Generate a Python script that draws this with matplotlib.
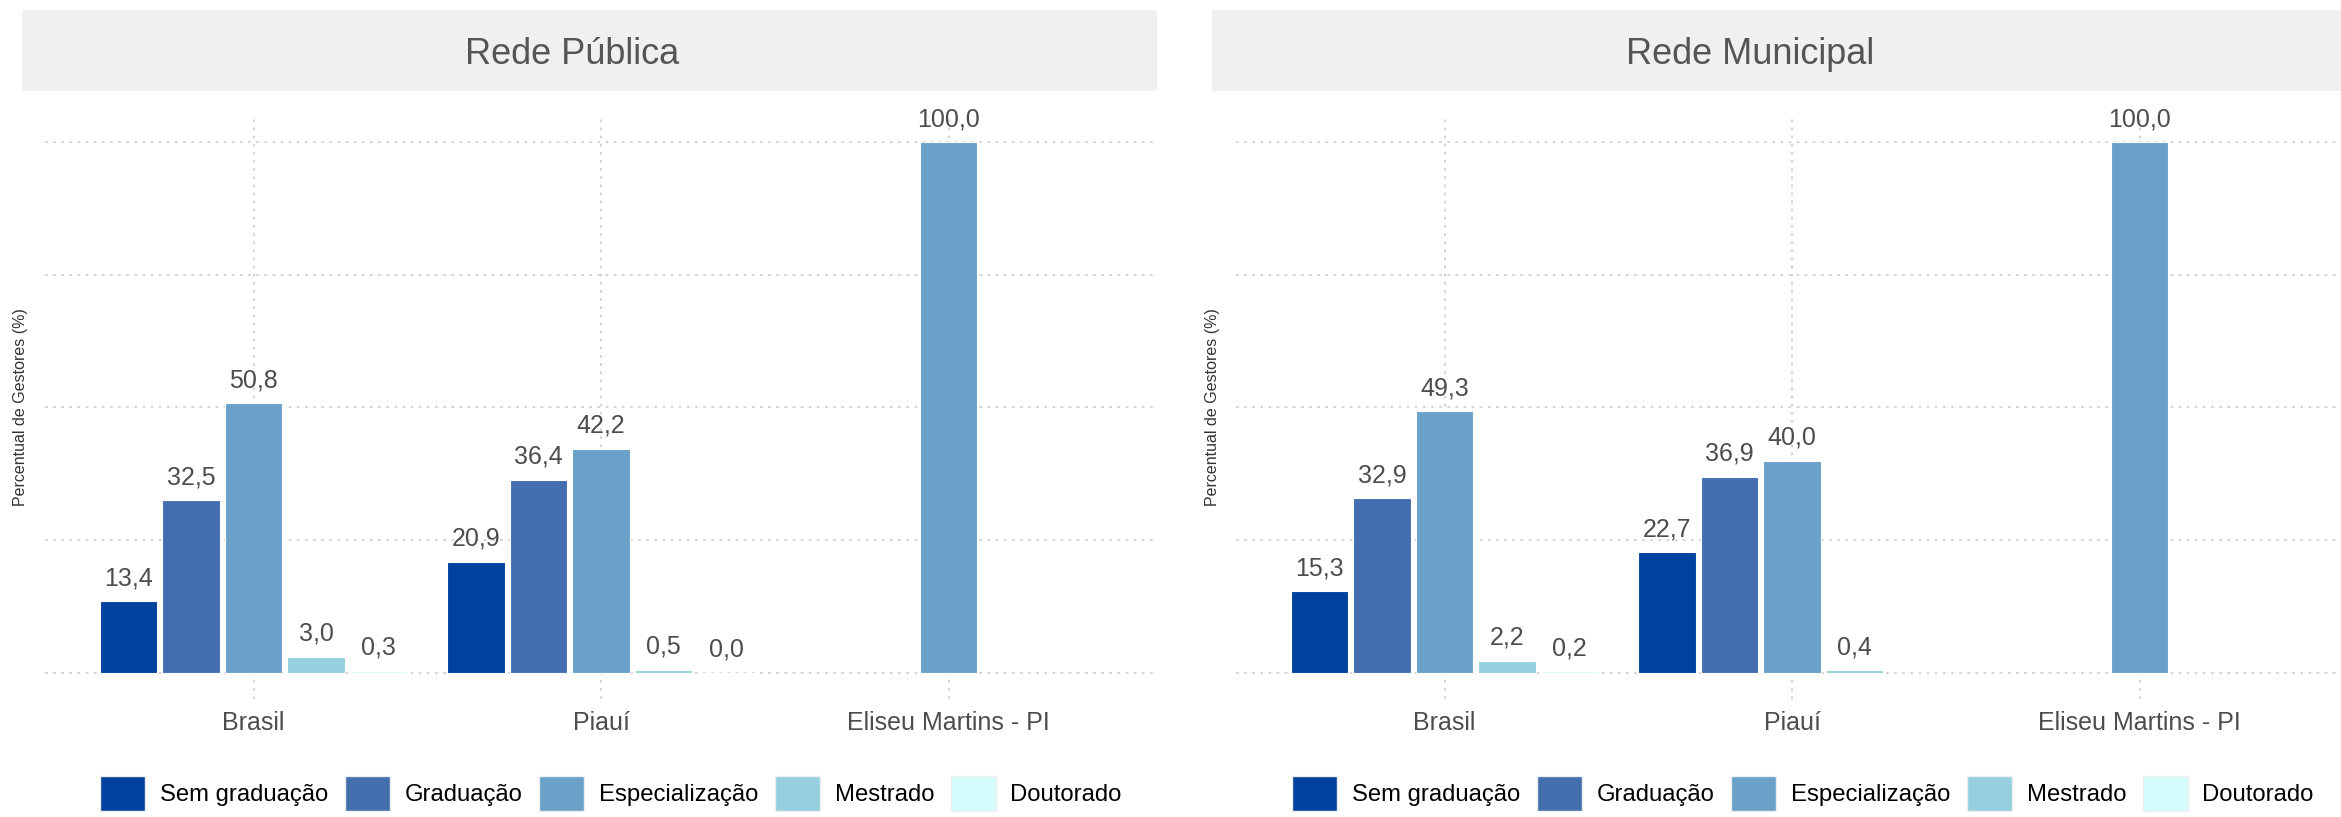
import numpy as np
import matplotlib
matplotlib.use("Agg")
import matplotlib.pyplot as plt
from matplotlib.patches import Rectangle, Patch

plt.rcParams['font.family'] = ['Liberation Sans', 'DejaVu Sans']

# data
locais = ['Brasil', 'Piauí', 'Eliseu Martins - PI']
niveis = ['Sem graduação', 'Graduação', 'Especialização', 'Mestrado', 'Doutorado']
cores = ['#00429d', '#436fb0', '#6aa1c8', '#96d0de', '#d5fcfc']

publica = {
    'Sem graduação': [13.4, 20.9, np.nan],
    'Graduação': [32.5, 36.4, np.nan],
    'Especialização': [50.8, 42.2, 100.0],
    'Mestrado': [3.0, 0.5, np.nan],
    'Doutorado': [0.3, 0.0, np.nan],
}
municipal = {
    'Sem graduação': [15.3, 22.7, np.nan],
    'Graduação': [32.9, 36.9, np.nan],
    'Especialização': [49.3, 40.0, 100.0],
    'Mestrado': [2.2, 0.4, np.nan],
    'Doutorado': [0.2, np.nan, np.nan],
}
titulos = ['Rede Pública', 'Rede Municipal']

W, H = 2341, 817
fig = plt.figure(figsize=(W / 100, H / 100), dpi=100)

def px(x0, y0, w, h):
    # pixel box (from top-left) -> figure fraction
    return [x0 / W, 1 - (y0 + h) / H, w / W, h / H]

paineis = [
    dict(dados=publica, ax_x=45, strip=(22, 1135), tx=572, ylab_x=21, leg_x=100),
    dict(dados=municipal, ax_x=1236, strip=(1212, 1140), tx=1750, ylab_x=1212, leg_x=1292),
]

x = np.arange(1, len(locais) + 1)
slot = 0.18
larg = 0.165

for p, titulo in zip(paineis, titulos):
    ax = fig.add_axes(px(p['ax_x'], 116, 1112, 583))
    for i, nv in enumerate(niveis):
        vals = np.array(p['dados'][nv], dtype=float)
        pos = x + (i - 2) * slot
        ok = ~np.isnan(vals)
        bars = ax.bar(pos[ok], vals[ok], width=larg, color=cores[i],
                      edgecolor='white', linewidth=0.8, zorder=3)
        ax.bar_label(bars, labels=[f'{v:.1f}'.replace('.', ',') for v in vals[ok]],
                     padding=8, fontsize=18, color='#4d4d4d', zorder=4)

    ax.set_xlim(0.4, 3.6)
    ax.set_ylim(-5, 105)
    ax.set_xticks(x)
    ax.set_xticklabels(locais, fontsize=18, color='#4d4d4d')
    ax.set_yticks([0, 25, 50, 75, 100])
    ax.set_yticklabels([])
    ax.tick_params(length=0, pad=9)
    ax.grid(True, color='#d0d0d0', linestyle=(0, (1.5, 3)), linewidth=1.3, zorder=0)
    for s in ax.spines.values():
        s.set_visible(False)

    fig.text(p['ylab_x'] / W, 1 - 407 / H, 'Percentual de Gestores (%)',
             rotation=90, ha='center', va='center', fontsize=11.5, color='#333333')

    sx, sw = p['strip']
    fig.add_artist(Rectangle((sx / W, 1 - 91 / H), sw / W, 81 / H,
                             transform=fig.transFigure, facecolor='#f0f0f0',
                             edgecolor='none', zorder=0))
    fig.text(p['tx'] / W, 1 - 55 / H, titulo, ha='center', va='center',
             fontsize=26, color='#555555')

    handles = [Patch(facecolor=c, edgecolor='#eeeeee', linewidth=1) for c in cores]
    fig.legend(handles, niveis, loc='upper left',
               bbox_to_anchor=(p['leg_x'] / W, 1 - 776 / H), ncol=5, frameon=False,
               fontsize=17.2, handlelength=1.9, handleheight=1.9,
               handletextpad=0.6, columnspacing=0.7, borderpad=0, borderaxespad=0)

fig.savefig('out.png', dpi=100)
